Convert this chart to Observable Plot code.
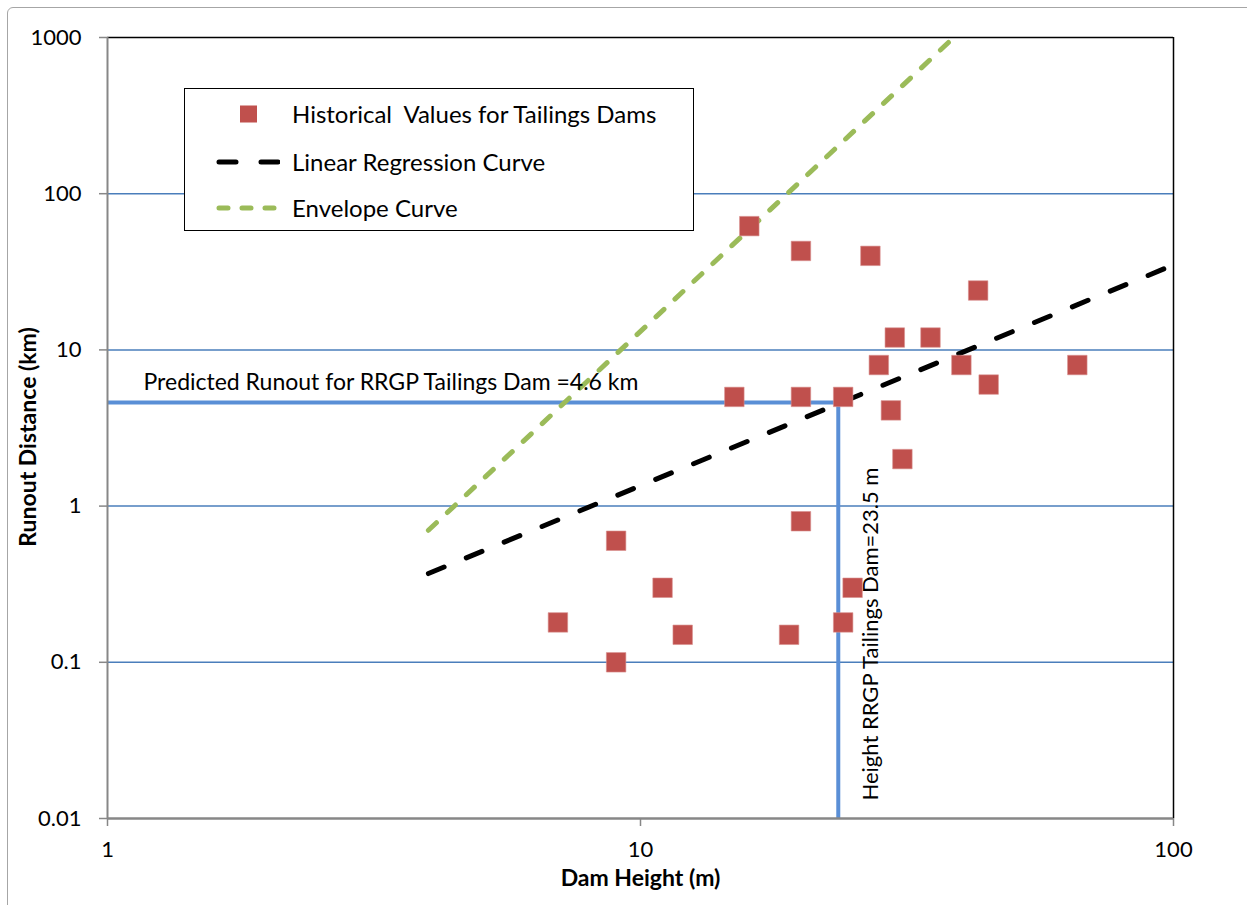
<!DOCTYPE html>
<html>
<head>
<meta charset="utf-8">
<script src="https://cdn.jsdelivr.net/npm/d3@7"></script>
<script src="https://cdn.jsdelivr.net/npm/@observablehq/plot@0.6"></script>
<style>
  body { margin: 0; background: #fff; font-family: Lato, "Open Sans", sans-serif; }
  #wrap { position: relative; width: 1247px; height: 905px; overflow: hidden; }
  #border { position: absolute; left: 7px; top: 7px; width: 1270px; height: 930px; border: 1.5px solid #a6a6a6; border-radius: 6px; box-sizing: border-box; pointer-events: none; }
  #chart { position: absolute; left: 0; top: 0; }
  #legend { position: absolute; left: 184px; top: 88px; width: 510px; height: 143px; border: 1.5px solid #000; background: #fff; box-sizing: border-box; }
  .row { position: absolute; left: 0; height: 30px; width: 100%; }
  .row svg { position: absolute; left: 31px; top: 0; }
  .row span { position: absolute; left: 107px; top: 0; line-height: 30px; font-size: 24px; color: #000; white-space: pre; }
</style>
</head>
<body>
<div id="wrap">
  <div id="chart"></div>
  <div id="legend"></div>
  <div id="border"></div>
</div>
<script>
// ---- data ----
const damHeight = [16, 20, 27, 43, 30, 35, 28, 40, 66, 45, 29.5, 31, 15, 20, 24, 9, 20, 11, 25, 7, 24, 12, 19, 9];
const runout    = [62, 43, 40, 24, 12, 12, 8, 8, 8, 6, 4.1, 2, 5, 5, 5, 0.6, 0.8, 0.3, 0.3, 0.18, 0.18, 0.15, 0.15, 0.1];

const regressionX = [4, 100];
const regressionY = [0.37, 35];
const envelopeX = [4, 38.7];
const envelopeY = [0.7, 1000];

const rrgpHeight = 23.5;
const rrgpRunout = 4.6;
const xMin = 1, xMax = 100, yMin = 0.01, yMax = 1000;

const xTicks = [1, 10, 100];
const yTicks = [0.01, 0.1, 1, 10, 100, 1000];
const yGrid = [0.1, 1, 10, 100];

const xTitle = "Dam Height (m)";
const yTitle = "Runout Distance (km)";
const runoutLabel = "Predicted Runout for RRGP Tailings Dam =4.6 km";
const heightLabel = "Height RRGP Tailings Dam=23.5 m";
const legendLabels = ["Historical  Values for Tailings Dams", "Linear Regression Curve", "Envelope Curve"];

// ---- tables ----
const points = damHeight.map((h, i) => ({h, r: runout[i]}));
const regression = regressionX.map((h, i) => ({h, r: regressionY[i]}));
const envelope = envelopeX.map((h, i) => ({h, r: envelopeY[i]}));
const refPath = [
  {h: xMin, r: rrgpRunout},
  {h: rrgpHeight, r: rrgpRunout},
  {h: rrgpHeight, r: yMin}
];

const fmt = d => String(d);

const chart = Plot.plot({
  width: 1247,
  height: 905,
  marginLeft: 107,
  marginRight: 74,
  marginTop: 37,
  marginBottom: 87,
  style: {fontFamily: "Lato, 'Open Sans', sans-serif", fontSize: "22px", color: "#000", background: "transparent"},
  x: {type: "log", domain: [xMin, xMax]},
  y: {type: "log", domain: [yMin, yMax]},
  marks: [
    Plot.gridY(yGrid, {stroke: "#4a7ebb", strokeOpacity: 1, strokeWidth: 1.5}),
    Plot.ruleY([yMax], {stroke: "#000", strokeWidth: 1.5}),
    Plot.ruleX([xMax], {stroke: "#000", strokeWidth: 1.5}),
    Plot.line(refPath, {x: "h", y: "r", stroke: "#5a8fd6", strokeWidth: 4, strokeLinejoin: "miter", strokeLinecap: "butt"}),
    Plot.line(regression, {x: "h", y: "r", stroke: "#000", strokeWidth: 5, strokeDasharray: "17,24", strokeLinecap: "round"}),
    Plot.line(envelope, {x: "h", y: "r", stroke: "#9bbb59", strokeWidth: 5, strokeDasharray: "11,15", strokeLinecap: "round"}),
    Plot.dot(points, {x: "h", y: "r", symbol: "square", r: 11, fill: "#c0504d", stroke: "#d8908e", strokeWidth: 0.6}),
    Plot.ruleX([xMin], {stroke: "#878787", strokeWidth: 2}),
    Plot.ruleY([yMin], {stroke: "#878787", strokeWidth: 2.5}),
    Plot.axisX(xTicks, {tickSize: 8, tickPadding: 15, stroke: "#878787", strokeWidth: 1.5, fill: "#000", tickFormat: fmt, label: null}),
    Plot.axisY(yTicks, {tickSize: 8, tickPadding: 18, stroke: "#878787", strokeWidth: 1.5, fill: "#000", tickFormat: fmt, label: null}),
    Plot.text([xTitle], {frameAnchor: "bottom", dy: 60, textAnchor: "middle", lineAnchor: "middle", fontWeight: "bold", fontSize: 23, fill: "#000"}),
    Plot.text([yTitle], {frameAnchor: "left", dx: -79, dy: 9, rotate: -90, textAnchor: "middle", lineAnchor: "middle", fontWeight: "bold", fontSize: 23, fill: "#000"}),
    Plot.text([runoutLabel], {x: () => xMin, y: () => rrgpRunout, dx: 36, dy: -13, textAnchor: "start", lineAnchor: "bottom", fontSize: 23, fill: "#000"}),
    Plot.text([heightLabel], {x: () => rrgpHeight, y: () => yMin, dx: 33, dy: -18, rotate: -90, textAnchor: "start", lineAnchor: "middle", fontSize: 22, fill: "#000"})
  ]
});
document.getElementById("chart").appendChild(chart);

// ---- legend (HTML overlay) ----
const legend = document.getElementById("legend");
const rowTops = [10, 58, 104];
const swatches = [
  `<svg width="64" height="30"><rect x="24" y="6.5" width="17" height="17" fill="#c0504d"/></svg>`,
  `<svg width="64" height="30"><line x1="3" y1="15" x2="62" y2="15" stroke="#000" stroke-width="5" stroke-linecap="round" stroke-dasharray="17,25"/></svg>`,
  `<svg width="64" height="30"><line x1="3" y1="15" x2="62" y2="15" stroke="#9bbb59" stroke-width="5" stroke-linecap="round" stroke-dasharray="9,14"/></svg>`
];
legendLabels.forEach((label, i) => {
  const row = document.createElement("div");
  row.className = "row";
  row.style.top = rowTops[i] + "px";
  row.innerHTML = swatches[i] + `<span>${label}</span>`;
  legend.appendChild(row);
});
</script>
</body>
</html>
